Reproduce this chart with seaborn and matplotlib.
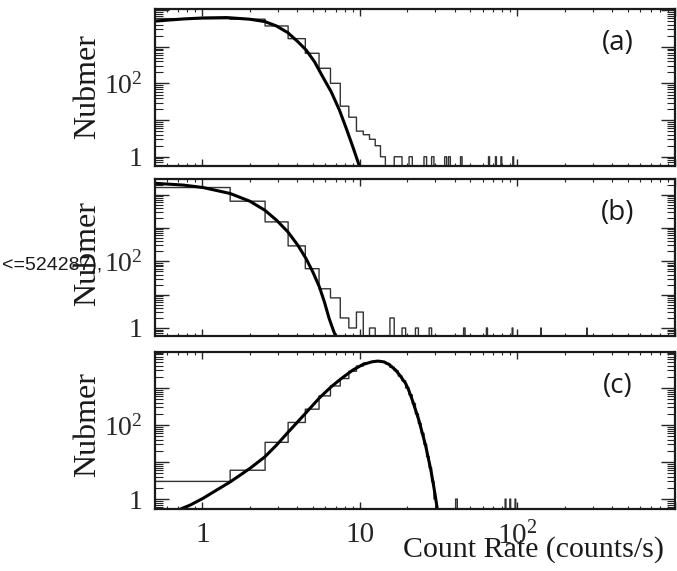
import numpy as np
import pandas as pd
import matplotlib
matplotlib.use("Agg")
import matplotlib.pyplot as plt
import seaborn as sns
from matplotlib.ticker import FixedLocator, LogLocator, FuncFormatter, NullFormatter

# ---------------- data ----------------
# unit-width bins centred on the integers 1..1000
n_bins = 1000

# panel (a)
a_low_counts = [5900, 5700, 3720, 1675, 668, 260, 101, 24, 12, 5, 4, 3, 2, 1]   # bins 1..14
a_sparse_bins = [17, 18, 21, 26, 29, 35, 37, 44, 66, 73, 79, 94]
a_sparse_counts = [1, 1, 1, 1, 1, 1, 1, 1, 1, 1, 1, 1]
a_fit_x = [0.5, 0.76, 1.01, 1.43, 2.0, 2.49, 2.95, 3.48, 4.03, 4.55, 5.14, 5.8, 6.56, 7.4, 8.18, 9.0, 9.9, 10.3]
a_fit_y = [5050, 5780, 6150, 6300, 5680, 4900, 3720, 2450, 1390, 822, 396, 153, 60, 19, 6, 1.9, 0.57, 0.3]

# panel (b)
b_low_counts = [16300, 6340, 1520, 290, 60, 15, 8, 2, 1, 3, 0, 1]               # bins 1..12
b_sparse_bins = [16, 19, 23, 28, 46, 64, 93, 141, 276]
b_sparse_counts = [2, 1, 1, 1, 1, 1, 1, 1, 1]
b_fit_x = [0.5, 0.528, 0.758, 1.01, 1.5, 2.0, 2.49, 2.95, 3.49, 4.03, 4.55, 5.02, 5.53, 5.95, 6.38, 6.81, 7.1]
b_fit_y = [21800, 21500, 19300, 16300, 10800, 6340, 3400, 1720, 760, 305, 120, 48, 17, 6, 1.9, 0.8, 0.5]

# panel (c)
c_low_counts = [3, 6, 34, 117, 267, 610, 1130, 1790, 2820, 3900, 4700, 5100, 5300, 5100,
                4500, 3600, 2900, 2100, 1550, 1000, 650, 380, 200, 110, 60, 30, 14, 7, 3, 1]  # bins 1..30
c_sparse_bins = [41, 84, 90, 97]
c_sparse_counts = [1, 1, 1, 1]
c_fit_x = [0.68, 0.72, 0.837, 1.01, 1.23, 1.5, 2.0, 2.49, 2.95, 3.49, 4.5, 5.53, 6.56, 7.6, 9.0,
           10.4, 12.0, 13.0, 14.2, 15.3, 16.9, 17.9, 19.5, 20.4, 21.5, 23.6, 26.1, 28.1, 29.4,
           30.1, 31.0, 31.4]
c_fit_y = [0.4, 0.53, 0.69, 1.05, 1.75, 2.9, 6.7, 13.8, 28.5, 63, 204, 538, 1070, 1780, 3020,
           4270, 5100, 5300, 5050, 4300, 3000, 2200, 1320, 870, 470, 140, 28, 6.5, 2.2,
           1.2, 0.53, 0.35]

panel_names = ["(a)", "(b)", "(c)"]
y_limits = [(0.57, 1.08e4), (0.575, 3.0e4), (0.53, 9.5e3)]
x_limits = (0.5, 1000)
y_tick_values = [1, 10, 100, 1000, 10000]
y_tick_labels = {1: "1", 100: r"$\mathregular{10^{2}}$"}
x_tick_values = [1, 10, 100, 1000]
x_tick_labels = {1: "1", 10: "10", 100: r"$\mathregular{10^{2}}$"}
y_title = "Nubmer"
x_title = "Count Rate (counts/s)"
stray_text = "<=524287),"


def full_counts(low, sparse_bins, sparse_counts):
    counts = np.zeros(n_bins)
    counts[:len(low)] = low
    for b, c in zip(sparse_bins, sparse_counts):
        counts[b - 1] = c
    return counts


hists = [full_counts(a_low_counts, a_sparse_bins, a_sparse_counts),
         full_counts(b_low_counts, b_sparse_bins, b_sparse_counts),
         full_counts(c_low_counts, c_sparse_bins, c_sparse_counts)]
fits = [(a_fit_x, a_fit_y), (b_fit_x, b_fit_y), (c_fit_x, c_fit_y)]

# ---------------- style ----------------
sns.set_style("ticks")
plt.rcParams["font.family"] = ["Liberation Serif", "DejaVu Serif"]
plt.rcParams["axes.linewidth"] = 1.6
plt.rcParams["axes.edgecolor"] = "#1a1a1a"

W, H = 677, 571
fig = plt.figure(figsize=(W / 100, H / 100), dpi=100)
ax_left, ax_right = 155, 675
ax_rows = [(9, 165.7), (178.7, 336), (351.7, 509.3)]
ylabel_centers = [87, 254, 425]

centers = np.arange(1, n_bins + 1)

for i, (top, bot) in enumerate(ax_rows):
    ax = fig.add_axes([ax_left / W, 1 - bot / H, (ax_right - ax_left) / W, (bot - top) / H])
    df = pd.DataFrame({"rate": centers.astype(float), "n": hists[i]})
    sns.histplot(data=df, x="rate", weights="n", binwidth=1.0, binrange=(0.5, n_bins + 0.5),
                 element="step", fill=False, color="#333333", linewidth=1.0, ax=ax)
    fx, fy = fits[i]
    sns.lineplot(x=fx, y=fy, color="black", linewidth=2.2, estimator=None, sort=False, ax=ax)
    ax.set_xscale("log")
    ax.set_yscale("log")
    ax.set_xlim(*x_limits)
    ax.set_ylim(*y_limits[i])
    ax.set_xlabel("")
    ax.set_ylabel("")

    ax.yaxis.set_major_locator(FixedLocator(y_tick_values))
    ax.yaxis.set_minor_locator(LogLocator(base=10, subs=np.arange(2, 10) * 1.0, numticks=50))
    ax.yaxis.set_major_formatter(FuncFormatter(lambda v, p: y_tick_labels.get(int(round(v)), "")))
    ax.yaxis.set_minor_formatter(NullFormatter())
    ax.xaxis.set_major_locator(FixedLocator(x_tick_values))
    ax.xaxis.set_minor_locator(LogLocator(base=10, subs=np.arange(2, 10) * 1.0, numticks=50))
    ax.xaxis.set_major_formatter(FuncFormatter(lambda v, p: x_tick_labels.get(int(round(v)), "")))
    ax.xaxis.set_minor_formatter(NullFormatter())

    ax.tick_params(axis="y", which="major", length=10, width=1.0, direction="in",
                   left=True, right=True, labelsize=20, pad=9)
    ax.tick_params(axis="y", which="minor", length=6, width=0.8, direction="in",
                   left=True, right=True)
    ax.tick_params(axis="x", which="major", length=5, width=1.0, direction="in",
                   top=True, bottom=True, labelsize=21, pad=9)
    ax.tick_params(axis="x", which="minor", length=2.5, width=0.8, direction="in",
                   top=True, bottom=True)
    if i < 2:
        ax.tick_params(axis="x", which="both", labelbottom=False)
    for s in ax.spines.values():
        s.set_visible(True)
        s.set_linewidth(1.6)

    fig.text(618 / W, 1 - (top + 34) / H, panel_names[i], ha="center", va="center",
             family=["Open Sans", "DejaVu Sans"], fontsize=20, color="#1a1a1a")
    fig.text(88 / W, 1 - ylabel_centers[i] / H, y_title, rotation=90, ha="center",
             va="center", fontsize=23, color="#1a1a1a")

fig.text(664 / W, 1 - 550 / H, x_title, ha="right", va="center", fontsize=21.5, color="#1a1a1a")
fig.text(2 / W, 1 - 270 / H, stray_text, ha="left", va="baseline",
         family=["Liberation Sans", "DejaVu Sans"], fontsize=14, color="#1a1a1a")

fig.savefig("out.png", dpi=100)
